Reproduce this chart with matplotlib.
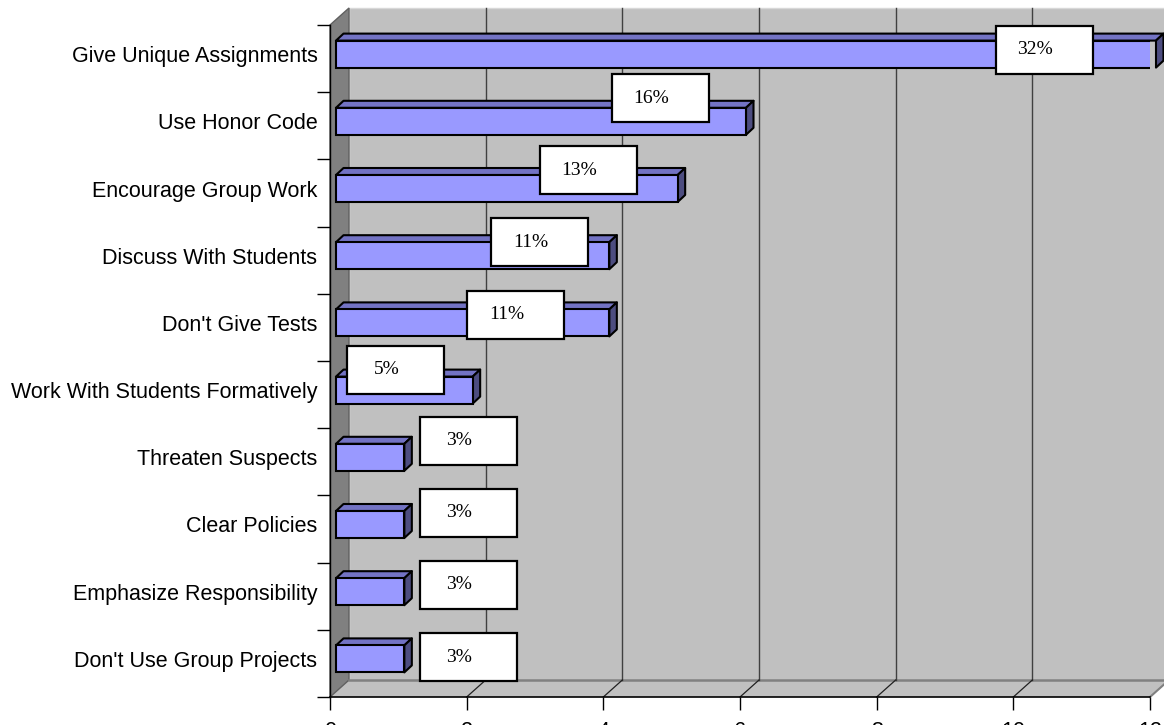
import matplotlib
matplotlib.use("Agg")
import matplotlib.pyplot as plt
from matplotlib.patches import Polygon, Rectangle
import numpy as np

# ---------------- data ----------------
categories = ["Give Unique Assignments", "Use Honor Code", "Encourage Group Work",
              "Discuss With Students", "Don't Give Tests", "Work With Students Formatively",
              "Threaten Suspects", "Clear Policies", "Emphasize Responsibility",
              "Don't Use Group Projects"]
values = [12, 6, 5, 4, 4, 2, 1, 1, 1, 1]
pct_labels = ["32%", "16%", "13%", "11%", "11%", "5%", "3%", "3%", "3%", "3%"]
xticks = [0, 2, 4, 6, 8, 10, 12]

# label box centres (x in data units, y as upward offset from row centre, rows)
label_x = [10.45, 4.83, 3.78, 3.07, 2.72, 0.96, 2.02, 2.02, 2.02, 2.02]
label_dy = [0.13, 0.41, 0.34, 0.27, 0.19, 0.37, 0.31, 0.24, 0.17, 0.09]

W, H = 1164, 725
fig = plt.figure(figsize=(W / 100, H / 100), dpi=100)
ax = fig.add_axes([330 / W, 28 / H, 820 / W, 672 / H])
n = len(categories)
ax.set_xlim(0, 12)
ax.set_ylim(-0.5, n - 0.5)
ax.set_facecolor("none")

PX = 12 / 820.0   # data x per pixel
PY = n / 672.0    # data y per pixel

# 3-D depth of the plot box
ddx, ddy = 19 * PX, 17 * PY
y0, y1 = -0.5, n - 0.5

left_wall = Polygon([(0, y0), (ddx, y0 + ddy), (ddx, y1 + ddy), (0, y1)],
                    closed=True, facecolor="#808080", edgecolor="#606060", lw=1.0,
                    clip_on=False, zorder=1)
back_wall = Polygon([(ddx, y0 + ddy), (12 + ddx, y0 + ddy), (12 + ddx, y1 + ddy), (ddx, y1 + ddy)],
                    closed=True, facecolor="#c0c0c0", edgecolor="#d8d8d8", lw=1.0,
                    clip_on=False, zorder=1)
floor = Polygon([(0, y0), (12, y0), (12 + ddx, y0 + ddy), (ddx, y0 + ddy)],
                closed=True, facecolor="#c0c0c0", edgecolor="none",
                clip_on=False, zorder=1)
for p in (back_wall, floor, left_wall):
    ax.add_patch(p)
# back wall bottom edge and floor right edge
ax.plot([ddx, 12 + ddx], [y0 + ddy, y0 + ddy], color="#808080", lw=1.8, clip_on=False, zorder=2)
ax.plot([12, 12 + ddx], [y0, y0 + ddy], color="#808080", lw=1.5, clip_on=False, zorder=2)

# gridlines on back wall and floor
for xv in xticks[1:-1]:
    ax.plot([xv + ddx, xv + ddx], [y0 + ddy, y1 + ddy], color="#404040", lw=1.0,
            clip_on=False, zorder=2)
    ax.plot([xv, xv + ddx], [y0, y0 + ddy], color="#202020", lw=0.9, clip_on=False, zorder=2)

# ---------------- bars ----------------
ypos = np.arange(n)[::-1]  # first category on top
fx, fy = 6 * PX, 4.5 * PY        # front face offset
bdx, bdy = 7.5 * PX, 7 * PY      # bar depth
bh = 27 * PY
front_col, top_col, side_col = "#9999ff", "#7373c4", "#4d4d80"

bars = ax.barh(ypos + fy, values, left=fx, height=bh, color=front_col,
               edgecolor="black", linewidth=1.5, zorder=5)
for b in bars:
    x_l = b.get_x()
    x_r = b.get_x() + b.get_width()
    yb = b.get_y()
    yt = yb + b.get_height()
    top = Polygon([(x_l, yt), (x_r, yt), (x_r + bdx, yt + bdy), (x_l + bdx, yt + bdy)],
                  closed=True, facecolor=top_col, edgecolor="black", lw=1.5,
                  zorder=4, clip_on=False, joinstyle="round")
    side = Polygon([(x_r, yb), (x_r + bdx, yb + bdy), (x_r + bdx, yt + bdy), (x_r, yt)],
                   closed=True, facecolor=side_col, edgecolor="black", lw=1.5,
                   zorder=4, clip_on=False, joinstyle="round")
    ax.add_patch(top)
    ax.add_patch(side)

# ---------------- data labels ----------------
bw, bhh = 97 * PX, 48 * PY
for yp, lx, ldy, txt in zip(ypos, label_x, label_dy, pct_labels):
    cy = yp + ldy
    ax.add_patch(Rectangle((lx - bw / 2, cy - bhh / 2), bw, bhh, facecolor="white",
                           edgecolor="black", lw=1.6, zorder=8, clip_on=False))
    ax.text(lx - 9 * PX, cy, txt, ha="center", va="center", fontsize=14,
            family=["Liberation Serif", "DejaVu Serif"], zorder=9)

# ---------------- axes ----------------
for s in ("top", "right"):
    ax.spines[s].set_visible(False)
ax.spines["left"].set_color("black")
ax.spines["bottom"].set_color("black")
ax.spines["left"].set_linewidth(1.0)
ax.spines["bottom"].set_linewidth(1.2)
ax.spines["left"].set_zorder(3)
ax.spines["bottom"].set_zorder(3)

tfont = ["Liberation Sans", "DejaVu Sans"]
ax.set_xticks(xticks)
ax.set_xticklabels([str(t) for t in xticks], fontsize=15.5, family=tfont)
ax.tick_params(axis="x", length=9.5, width=1.0, pad=8, direction="out")

ax.set_yticks(ypos + fy)
ax.set_yticklabels(categories, fontsize=15.5, family=tfont)
ax.set_yticks(np.arange(-0.5, n, 1.0), minor=True)
ax.tick_params(axis="y", which="major", length=0, pad=9)
ax.tick_params(axis="y", which="minor", length=9.5, width=1.0, direction="out")

fig.savefig("out.png", dpi=100)
